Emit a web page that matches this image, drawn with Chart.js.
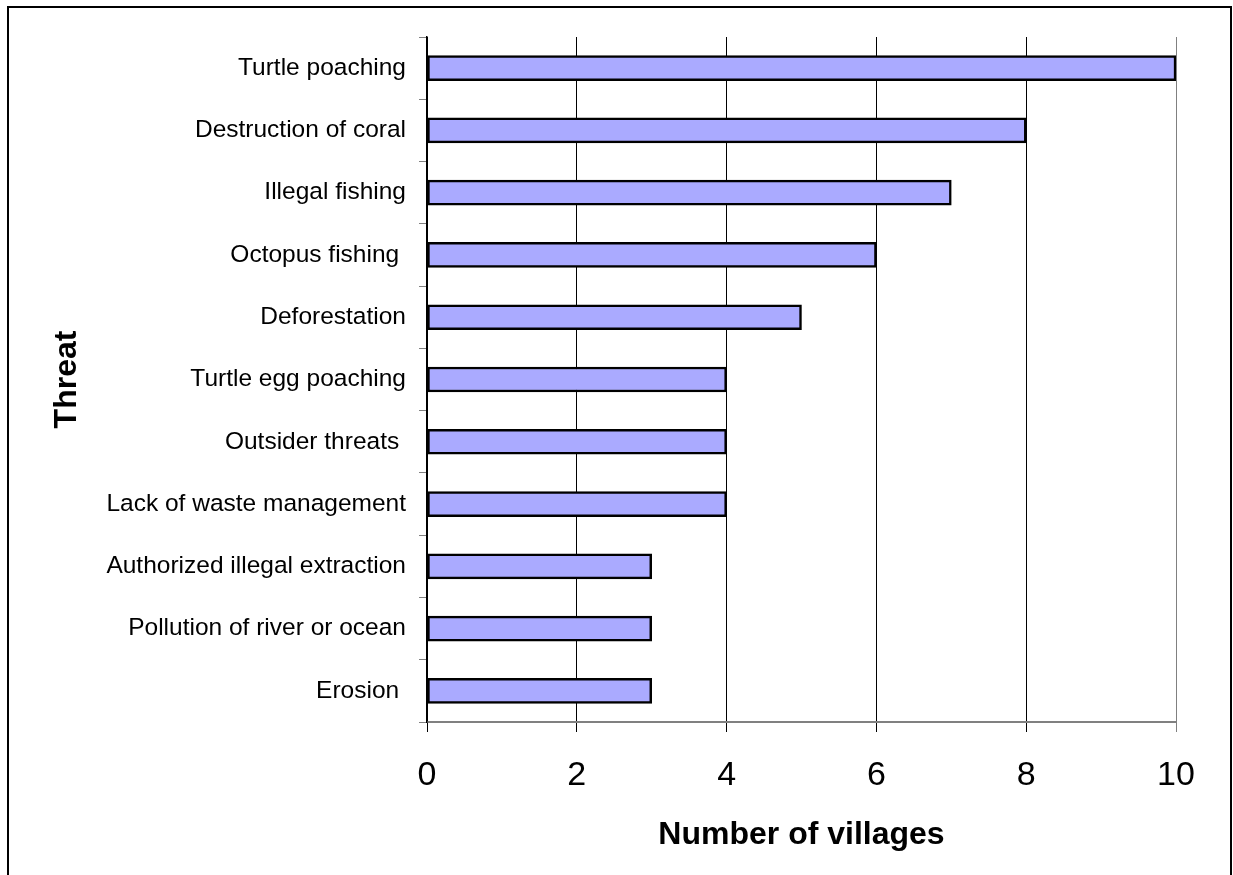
<!DOCTYPE html>
<html>
<head>
<meta charset="utf-8">
<script src="https://cdn.jsdelivr.net/npm/chart.js@4"></script>
<style>
  html, body { margin: 0; padding: 0; background: #ffffff; }
  canvas { display: block; }
</style>
</head>
<body>
<canvas id="c" width="1233" height="875"></canvas>
<script>
// ---- data ----
const categories = [
  "Turtle poaching",
  "Destruction of coral",
  "Illegal fishing",
  "Octopus fishing ",
  "Deforestation",
  "Turtle egg poaching",
  "Outsider threats ",
  "Lack of waste management",
  "Authorized illegal extraction",
  "Pollution of river or ocean",
  "Erosion "
];
const villages = [10, 8, 7, 6, 5, 4, 4, 4, 3, 3, 3];
const xMin = 0;
const xMax = 10;
const xStep = 2;
const xTitle = "Number of villages";
const yTitle = "Threat";

const FONT = "'Liberation Sans', Arial, sans-serif";

const framePlugin = {
  id: 'frame',
  beforeDraw(chart) {
    const ctx = chart.ctx;
    ctx.save();
    ctx.fillStyle = '#ffffff';
    ctx.fillRect(0, 0, chart.width, chart.height);
    ctx.restore();
  },
  afterDraw(chart) {
    const ctx = chart.ctx;
    ctx.save();
    ctx.strokeStyle = '#000000';
    ctx.lineWidth = 2;
    ctx.beginPath();
    ctx.moveTo(8, 875);
    ctx.lineTo(8, 7);
    ctx.lineTo(1231, 7);
    ctx.lineTo(1231, 875);
    ctx.stroke();
    ctx.restore();
  }
};

new Chart(document.getElementById('c'), {
  type: 'bar',
  data: {
    labels: categories,
    datasets: [{
      data: villages,
      backgroundColor: '#AAAAFF',
      borderColor: '#000000',
      borderWidth: 2.5,
      borderSkipped: false,
      barThickness: 25
    }]
  },
  options: {
    indexAxis: 'y',
    responsive: false,
    animation: false,
    devicePixelRatio: 1,
    layout: { padding: { left: 0, top: 37, right: 57, bottom: 0 } },
    plugins: {
      legend: { display: false },
      tooltip: { enabled: false }
    },
    scales: {
      x: {
        min: xMin,
        max: xMax,
        ticks: {
          stepSize: xStep,
          color: '#000000',
          font: { family: FONT, size: 34 },
          padding: 23,
          maxRotation: 0
        },
        grid: {
          color: (c) => (c.tick && c.tick.value === xMax) ? '#808080' : '#000000',
          lineWidth: 1,
          tickLength: 10,
          drawTicks: true
        },
        border: { display: true, color: '#808080', width: 2 },
        title: {
          display: true,
          text: xTitle,
          color: '#000000',
          font: { family: FONT, size: 32, weight: 'bold' },
          padding: { top: 0, bottom: 21 }
        },
        afterFit(scale) { scale.height = 153; }
      },
      y: {
        ticks: {
          color: '#000000',
          font: { family: FONT, size: 24.5 },
          padding: 13,
          autoSkip: false
        },
        grid: {
          offset: true,
          drawOnChartArea: false,
          color: '#808080',
          lineWidth: 1,
          tickLength: 8
        },
        border: { display: true, color: '#000000', width: 1.5 },
        title: {
          display: true,
          text: yTitle,
          color: '#000000',
          font: { family: FONT, size: 32, weight: 'bold' },
          padding: { top: 48, bottom: 0 }
        },
        afterFit(scale) { scale.width = 427; }
      }
    }
  },
  plugins: [framePlugin]
});
</script>
</body>
</html>
